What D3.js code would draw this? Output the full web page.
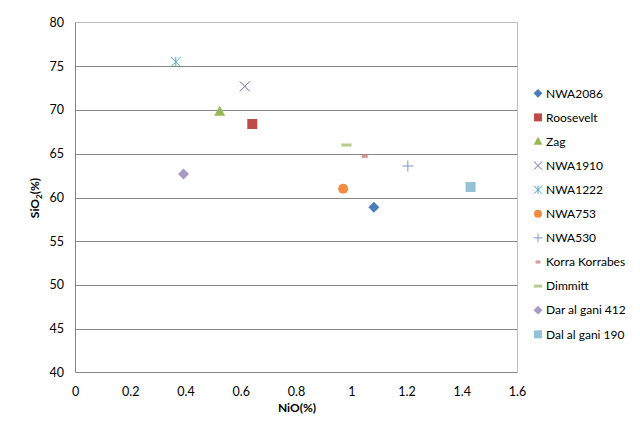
<!DOCTYPE html>
<html><head><meta charset="utf-8">
<script src="https://cdn.jsdelivr.net/npm/d3@7"></script>
<style>body{margin:0;background:#fff;}svg{display:block;font-family:Lato,"Open Sans",sans-serif;}</style>
</head><body>
<svg id="c" width="640" height="427"></svg>
<script>
const seriesNames = ["NWA2086","Roosevelt","Zag","NWA1910","NWA1222","NWA753","NWA530","Korra Korrabes","Dimmitt","Dar al gani 412","Dal al gani 190"];
const nioValues = [1.08, 0.64, 0.522, 0.613, 0.363, 0.969, 1.203, 1.047, 0.981, 0.391, 1.43];
const sio2Values = [58.9, 68.4, 69.8, 72.7, 75.5, 61.0, 63.6, 64.7, 66.0, 62.7, 61.2];
const markerShapes = ["diamond","square","triangle","x","star","circle","plus","smalldash","dash","diamond","square"];
const seriesColors = ["#4A7EBB","#BE4B48","#98B954","#7D60A0","#46AAC5","#F28C3F","#7F96CB","#D99694","#B3CC8C","#A899C5","#93C3D5"];
const xTicks = [0,0.2,0.4,0.6,0.8,1,1.2,1.4,1.6];
const yTicks = [40,45,50,55,60,65,70,75,80];

const svg = d3.select("#c");
const x = d3.scaleLinear().domain([0,1.6]).range([75.5,517.5]);
const y = d3.scaleLinear().domain([40,80]).range([372.5,22.5]);

svg.append("g").selectAll("line").data(yTicks.filter(t=>t>40&&t<80)).join("line")
  .attr("x1",x(0)).attr("x2",x(1.6)).attr("y1",d=>Math.round(y(d))+0.5).attr("y2",d=>Math.round(y(d))+0.5)
  .attr("stroke","#868686").attr("stroke-width",1);
svg.append("path").attr("d",`M${x(0)},${y(80)}H${x(1.6)}V${y(40)}`).attr("fill","none").attr("stroke","#BDBDBD");
svg.append("line").attr("x1",x(0)).attr("x2",x(0)).attr("y1",y(80)).attr("y2",y(40)).attr("stroke","#868686");
svg.append("line").attr("x1",x(0)).attr("x2",x(1.6)).attr("y1",y(40)).attr("y2",y(40)).attr("stroke","#868686");

svg.append("g").selectAll("text").data(yTicks).join("text")
  .attr("x",64).attr("y",d=>y(d)).attr("dy","0.35em").attr("text-anchor","end")
  .attr("font-size",12.5).attr("fill","#000").text(d=>d);
svg.append("g").selectAll("text").data(xTicks).join("text")
  .attr("x",d=>x(d)).attr("y",392).attr("dy","0.35em").attr("text-anchor","middle")
  .attr("font-size",12.5).attr("fill","#000").text(d=>d);

svg.append("text").attr("x",297).attr("y",412).attr("text-anchor","middle").attr("font-size",12).attr("font-weight","bold").text("NiO(%)");
const yl = svg.append("text").attr("transform","translate(39,198) rotate(-90)").attr("text-anchor","middle").attr("font-size",12).attr("font-weight","bold");
yl.append("tspan").text("SiO");
yl.append("tspan").attr("font-size",8).attr("dy",3).text("2");
yl.append("tspan").attr("dy",-3).text("(%)");

function drawMarker(g, shape, color, big){
  const s = big ? 1 : 0.8;
  switch(shape){
    case "diamond": g.append("path").attr("d",`M0,${-5.5*s}L${5.5*s},0L0,${5.5*s}L${-5.5*s},0Z`).attr("fill",color); break;
    case "square": g.append("rect").attr("x",-5*s).attr("y",-5*s).attr("width",10*s).attr("height",10*s).attr("fill",color); break;
    case "triangle": g.append("path").attr("d",`M0,${-6*s}L${5.5*s},${4*s}L${-5.5*s},${4*s}Z`).attr("fill",color); break;
    case "circle": g.append("circle").attr("r",5*s).attr("fill",color); break;
    case "x": g.append("path").attr("d",`M${-5*s},${-5*s}L${5*s},${5*s}M${5*s},${-5*s}L${-5*s},${5*s}`).attr("stroke",color).attr("stroke-width",1); break;
    case "star": g.append("path").attr("d",`M${-5*s},${-5*s}L${5*s},${5*s}M${5*s},${-5*s}L${-5*s},${5*s}M0,${-5*s}V${5*s}`).attr("stroke",color).attr("stroke-width",1); break;
    case "plus": g.append("path").attr("d",`M${-5.5*s},0H${5.5*s}M0,${-5.5*s}V${5.5*s}`).attr("stroke",color).attr("stroke-width",1); break;
    case "smalldash": g.append("rect").attr("x",-3*s).attr("y",-1.5).attr("width",6*s).attr("height",3).attr("fill",color); break;
    case "dash": g.append("rect").attr("x",-5*s).attr("y",-1.5).attr("width",10*s).attr("height",3).attr("fill",color); break;
  }
}

seriesNames.forEach((n,i)=>{
  const g = svg.append("g").attr("transform",`translate(${x(nioValues[i])},${y(sio2Values[i])})`);
  drawMarker(g, markerShapes[i], seriesColors[i], true);
});

const legend = svg.append("g");
seriesNames.forEach((n,i)=>{
  const yy = 93.3 + i*24.1;
  const g = legend.append("g").attr("transform",`translate(538,${yy})`);
  drawMarker(g, markerShapes[i], seriesColors[i], false);
  legend.append("text").attr("x",546).attr("y",yy).attr("dy","0.35em").attr("font-size",12).attr("fill","#000").text(n);
});
</script>
</body></html>
